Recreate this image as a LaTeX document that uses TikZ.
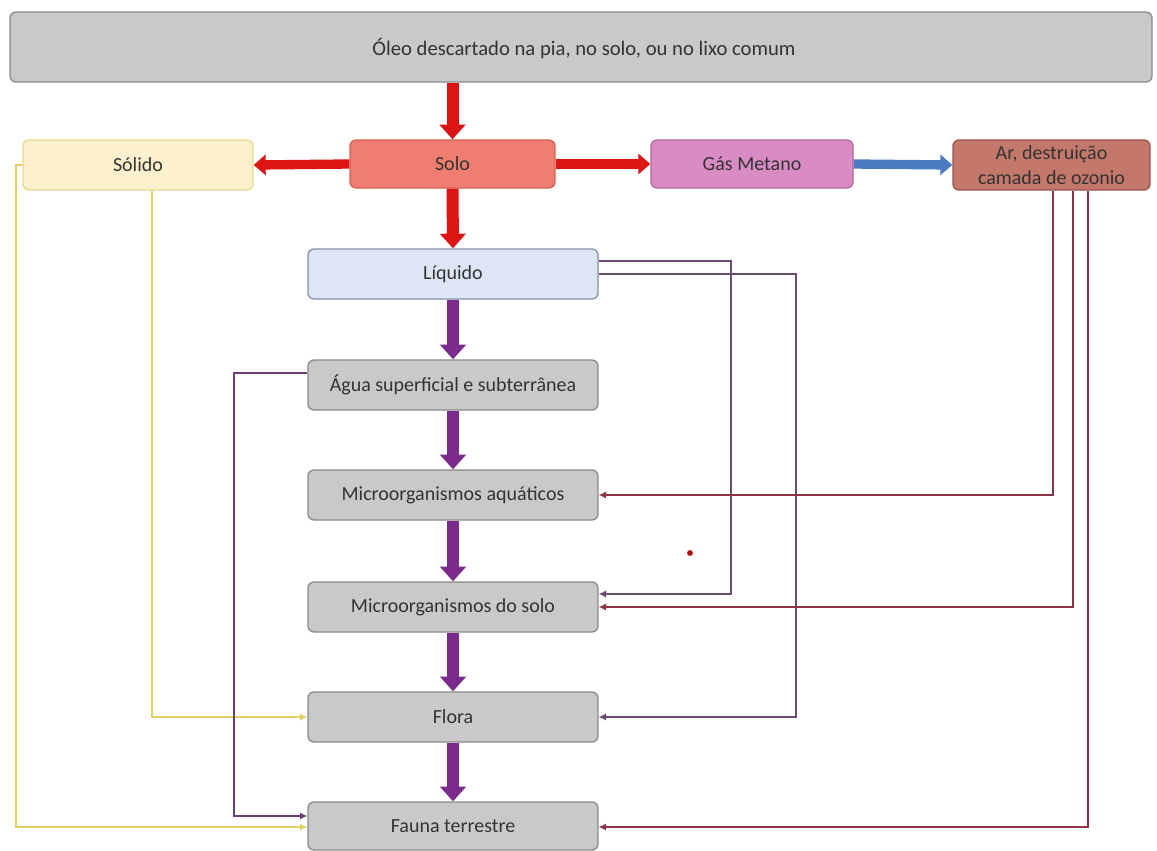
\documentclass[tikz,border=0pt]{standalone}
\usepackage{fontspec}
\setmainfont{Carlito}
\usetikzlibrary{arrows.meta,calc}
\definecolor{boxgray}{HTML}{C9C9C9}
\definecolor{boxedge}{HTML}{8A8A8A}
\definecolor{solofill}{HTML}{EF7E70}
\definecolor{soloedge}{HTML}{D46356}
\definecolor{solidofill}{HTML}{FDF1CD}
\definecolor{solidoedge}{HTML}{E8D894}
\definecolor{gasfill}{HTML}{D98BC4}
\definecolor{gasedge}{HTML}{B4679F}
\definecolor{arfill}{HTML}{C4786B}
\definecolor{aredge}{HTML}{9C5247}
\definecolor{liqfill}{HTML}{DDE6F5}
\definecolor{liqedge}{HTML}{8491A6}
\definecolor{txt}{HTML}{333333}
\definecolor{redarrow}{HTML}{DD1414}
\definecolor{bluearrow}{HTML}{4A7CC2}
\definecolor{purplearrow}{HTML}{7A2B8C}
\definecolor{liqline}{HTML}{6B4C70}
\definecolor{arline}{HTML}{8C3345}
\definecolor{agualine}{HTML}{6A3F72}
\definecolor{yline}{HTML}{E4D060}
\begin{document}
\begin{tikzpicture}[x=0.75pt,y=-0.75pt,
  font=\fontsize{15}{18.5}\selectfont,
  box/.style={draw=boxedge, fill=boxgray, line width=1pt, rounded corners=4.5pt,
    inner sep=0pt, text=txt, align=center},
  colbox/.style={box, minimum width=290*0.75pt, minimum height=50*0.75pt},
  bigred/.style={draw=redarrow, line width=9pt, -{Triangle[width=19pt,length=11pt]}},
  bigredh/.style={draw=redarrow, line width=7pt, -{Triangle[width=15pt,length=9pt]}},
  bigblue/.style={draw=bluearrow, line width=7pt, -{Triangle[width=15pt,length=9pt]}},
  bigpurple/.style={draw=purplearrow, line width=8.5pt, -{Triangle[width=19pt,length=11pt]}},
  conn/.style={line width=1.7pt, -{Latex[length=5.5pt,width=5.5pt]}},
]
\useasboundingbox (0,0) rectangle (1157,850);
\fill[white] (0,0) rectangle (1157,850);

% nodes
\node[box, minimum width=1142*0.75pt, minimum height=70*0.75pt] (top) at (581,47) {};
\node[text=txt, font=\fontsize{15.5}{18.5}\selectfont] (toptext) at (584,49) {Óleo descartado na pia, no solo, ou no lixo comum};
\node[box, fill=solofill, draw=soloedge, minimum width=205*0.75pt, minimum height=48*0.75pt] (solo) at (452.5,164) {Solo};
\node[box, fill=solidofill, draw=solidoedge, minimum width=230*0.75pt, minimum height=50*0.75pt] (solido) at (138,165) {Sólido};
\node[box, fill=gasfill, draw=gasedge, minimum width=202*0.75pt, minimum height=48*0.75pt] (gas) at (752,164) {Gás Metano};
\node[box, fill=arfill, draw=aredge, minimum width=197*0.75pt, minimum height=50*0.75pt] (ar) at (1051.5,165) {Ar, destruição\\camada de ozonio};
\node[colbox, fill=liqfill, draw=liqedge] (liq) at (453,274) {Líquido};
\node[colbox] (agua) at (453,385) {Água superficial e subterrânea};
\node[colbox] (maq) at (453,495) {Microorganismos aquáticos};
\node[colbox] (msolo) at (453,607) {Microorganismos do solo};
\node[colbox] (flora) at (453,717) {Flora};
\node[colbox, minimum height=48*0.75pt] (fauna) at (453,826) {Fauna terrestre};

% thick arrows
\draw[bigred] (top.south -| solo.north) -- (solo.north);
\draw[bigredh] (solo.west) -- (solido.east);
\draw[bigredh] (solo.east) -- (gas.west);
\draw[bigblue] (gas.east) -- (ar.west);
\draw[bigred] (solo.south) -- (liq.north);
\draw[bigpurple] (liq.south) -- (agua.north);
\draw[bigpurple] (agua.south) -- (maq.north);
\draw[bigpurple] (maq.south) -- (msolo.north);
\draw[bigpurple] (msolo.south) -- (flora.north);
\draw[bigpurple] (flora.south) -- (fauna.north);

% yellow connectors from Sólido
\draw[conn, draw=yline] (solido.west) -- ++(-6,0) |- ([yshift=-0.75pt]fauna.west);
\draw[conn, draw=yline] ([xshift=10.5pt]solido.south) |- (flora.west);

% Água connector
\draw[conn, draw=agualine] ([yshift=9pt]agua.west) -- ++(-73,0) |- ([yshift=7.5pt]fauna.west);

% Líquido connectors
\draw[conn, draw=liqline] ([yshift=9.75pt]liq.east) -- ++(132,0) |- ([yshift=9.75pt]msolo.east);
\draw[conn, draw=liqline] (liq.east) -- ++(197,0) |- (flora.east);

% Ar connectors
\draw[conn, draw=arline] ([xshift=1.1pt]ar.south) |- (maq.east);
\draw[conn, draw=arline] ([xshift=16pt]ar.south) |- (msolo.east);
\draw[conn, draw=arline] ([xshift=27.4pt]ar.south) |- ([yshift=-0.75pt]fauna.east);

% stray dot
\fill[redarrow!80!black] (690,553) circle (2.2pt);
\end{tikzpicture}
\end{document}
